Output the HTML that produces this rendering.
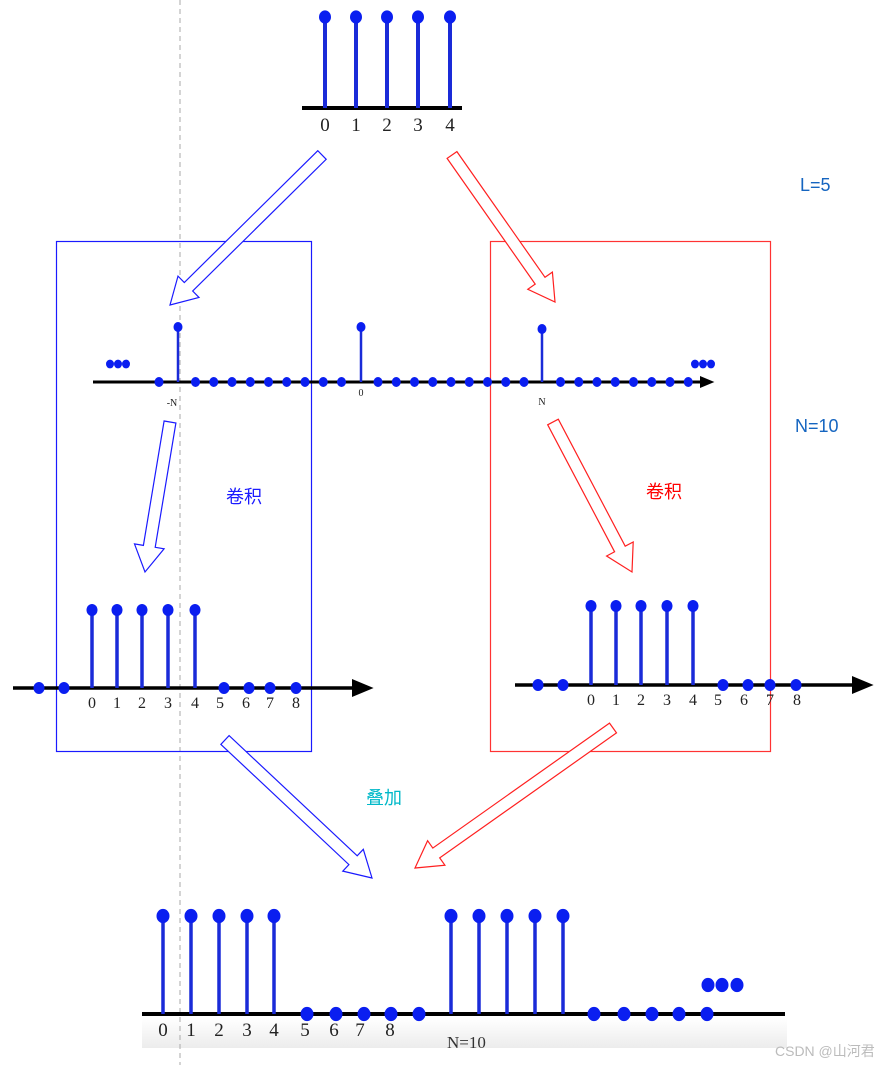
<!DOCTYPE html>
<html><head><meta charset="utf-8"><style>
html,body{margin:0;padding:0;background:#fff;width:892px;height:1065px;overflow:hidden}
svg{display:block}
text{font-family:"Liberation Serif",serif}
.cn{font-family:"Liberation Sans","Noto Sans CJK SC",sans-serif}
</style></head><body>
<svg id="s" width="892" height="1065" viewBox="0 0 892 1065" xmlns="http://www.w3.org/2000/svg">
<defs><linearGradient id="g" x1="0" y1="0" x2="0" y2="1"><stop offset="0" stop-color="#fff"/><stop offset="1" stop-color="#ececec"/></linearGradient></defs>
<rect x="142" y="1018" width="645" height="30" fill="url(#g)"/>
<line x1="180" y1="0" x2="180" y2="1065" stroke="#aaa" stroke-dasharray="5,4" stroke-width="1"/>
<rect x="56.5" y="241.5" width="255" height="510" fill="none" stroke="#1a1aff" stroke-width="1.2"/>
<rect x="490.5" y="241.5" width="280" height="510" fill="none" stroke="#ff3333" stroke-width="1.2"/>
<g id="dyn"></g>
<text x="800" y="191" class="cn" font-size="18" fill="#1565c0">L=5</text>
<text x="795" y="432" class="cn" font-size="18" fill="#1565c0">N=10</text>
<text x="226" y="503" class="cn" font-size="18" fill="#1a1aff">卷积</text>
<text x="646" y="498" class="cn" font-size="18" fill="#ff0000">卷积</text>
<text x="366" y="804" class="cn" font-size="18" fill="#00b8c8">叠加</text>
<text x="775" y="1056" class="cn" font-size="14" fill="#bbb">CSDN @山河君</text>
<text x="447" y="1048" font-size="17" fill="#333">N=10</text>
<text x="172" y="406" font-size="10" fill="#222" text-anchor="middle">-N</text>
<text x="361" y="396" font-size="10" fill="#222" text-anchor="middle">0</text>
<text x="542" y="405" font-size="10" fill="#222" text-anchor="middle">N</text>
</svg>
<script>
var g=document.getElementById('dyn'),h='';
var B='#1a2bd8';
function ln(x1,y1,x2,y2,c,w){h+='<line x1="'+x1+'" y1="'+y1+'" x2="'+x2+'" y2="'+y2+'" stroke="'+c+'" stroke-width="'+w+'"/>';}
function dot(x,y,r){h+='<ellipse cx="'+x+'" cy="'+y+'" rx="'+r+'" ry="'+(r*1.1)+'" fill="#0a1ef0"/>';}
function lab(x,y,t,s){h+='<text x="'+x+'" y="'+y+'" font-size="'+s+'" fill="#222" text-anchor="middle" font-family="Liberation Serif">'+t+'</text>';}
function axis(x1,x2,y,w,ah){ln(x1,y,x2,y,'#000',w);if(ah)h+='<polygon points="'+x2+','+(y-ah/2)+' '+(x2+ah*1.2)+','+y+' '+x2+','+(y+ah/2)+'" fill="#000"/>';}
function stem(x,yt,yb,r,w){ln(x,yt,x,yb,B,w);dot(x,yt,r);}
function arrow(x1,y1,x2,y2,c){var dx=x2-x1,dy=y2-y1,L=Math.hypot(dx,dy),ux=dx/L,uy=dy/L,px=-uy,py=ux,sw=6,hw=15,hl=26;
var bx=x2-ux*hl,by=y2-uy*hl;
var p=[[x1+px*sw,y1+py*sw],[bx+px*sw,by+py*sw],[bx+px*hw,by+py*hw],[x2,y2],[bx-px*hw,by-py*hw],[bx-px*sw,by-py*sw],[x1-px*sw,y1-py*sw]];
h+='<polygon points="'+p.map(function(q){return q[0].toFixed(1)+','+q[1].toFixed(1)}).join(' ')+'" fill="#fff" stroke="'+c+'" stroke-width="1.2"/>';}
axis(302,462,108,4,0);
[325,356,387,418,450].forEach(function(x,i){stem(x,17,108,6,4);lab(x,131,i,19);});
axis(93,700,382,3,12);
for(var k=0;k<31;k++){var x=159+k*18.25;if(x>702)break;if(Math.abs(x-178)<3||Math.abs(x-361)<3||Math.abs(x-542)<4)continue;dot(x,382,4.5);}
stem(178,327,382,4.5,2.5);stem(361,327,382,4.5,2.5);stem(542,329,382,4.5,2.5);
[110,118,126,695,703,711].forEach(function(x){dot(x,364,4);});
axis(13,352,688,3.5,18);
[92,117,142,168,195].forEach(function(x){stem(x,610,688,5.5,3.5);});
[39,64,224,249,270,296].forEach(function(x){dot(x,688,5.5);});
[92,117,142,168,195,220,246,270,296].forEach(function(x,i){lab(x,708,i,16);});
axis(515,852,685,3.5,18);
[591,616,641,667,693].forEach(function(x){stem(x,606,685,5.5,3.5);});
[538,563,723,748,770,796].forEach(function(x){dot(x,685,5.5);});
[591,616,641,667,693,718,744,770,797].forEach(function(x,i){lab(x,705,i,16);});
axis(142,785,1014,4,0);
[163,191,219,247,274,451,479,507,535,563].forEach(function(x){stem(x,916,1014,6.5,3.5);});
[307,336,364,391,419,594,624,652,679,707].forEach(function(x){dot(x,1014,6.5);});
[708,722,737].forEach(function(x){dot(x,985,6.5);});
[163,191,219,247,274,305,334,360,390].forEach(function(x,i){lab(x,1036,i,19);});
arrow(322,155,170,305,'#1a1aff');
arrow(452,155,555,302,'#ff2020');
arrow(170,422,145,572,'#1a1aff');
arrow(553,422,632,572,'#ff2020');
arrow(225,740,372,878,'#1a1aff');
arrow(613,728,415,868,'#ff2020');
g.innerHTML=h;
</script>
</body></html>
